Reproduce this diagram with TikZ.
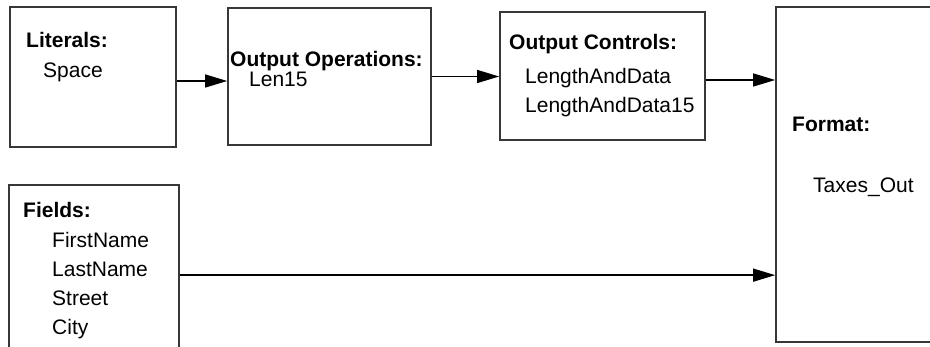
\documentclass[tikz,border=0pt]{standalone}
\usepackage{fontspec}
\setmainfont{Liberation Sans}
\usetikzlibrary{arrows.meta,positioning,calc}
\definecolor{boxline}{RGB}{55,55,55}

\begin{document}
\begin{tikzpicture}[x=1pt,y=-1pt,
  every node/.style={font=\fontsize{21}{29}\selectfont,inner sep=0pt},
  box/.style={draw=boxline,line width=1.7pt},
  arr/.style={-{Triangle[length=22pt,width=13pt]},line width=1.3pt}]
\clip (0,0) rectangle (930,347);
% boxes
\node[box,minimum width=166pt,minimum height=140pt] (lit) at (93,77) {};
\node[box,minimum width=203pt,minimum height=137pt] (ops) at (329.5,76.5) {};
\node[box,minimum width=205pt,minimum height=128pt] (ctl) at (602.5,76) {};
\node[box,minimum width=184pt,minimum height=335pt] (fmt) at (868,174.5) {};
\node[box,minimum width=170pt,minimum height=195pt] (fld) at (94,282.5) {};
% texts
\node[anchor=base west] (litT) at (26,48) {\textbf{Literals:}};
\node[anchor=base west] (litV) at (43,78) {Space};
\node[anchor=base west] (opsT) at (230,67) {\textbf{Output Operations:}};
\node[anchor=base west] (opsV) at (249,87) {Len15};
\node[anchor=base west] (ctlT) at (509,50) {\textbf{Output Controls:}};
\node[anchor=north west,align=left] (ctlV) at (525,68) {LengthAndData\\LengthAndData15};
\node[anchor=base west] (fmtT) at (792,132) {\textbf{Format:}};
\node[anchor=base west] (fmtV) at (813,193) {Taxes\_Out};
\node[anchor=base west] (fldT) at (23,218) {\textbf{Fields:}};
\node[anchor=north west,align=left] (fldV) at (52,232) {FirstName\\LastName\\Street\\City};
% connectors
\draw[arr] ($(lit.east)+(0,4)$) -- ($(ops.west |- lit.east)+(0,4)$);
\draw[arr] (ops.east) -- (ops.east -| ctl.west);
\draw[arr] ($(ctl.east)+(0,4)$) -- ($(fmt.west |- ctl.east)+(0,4)$);
\draw[arr] ($(fld.north east)+(0,91)$) -- ($(fmt.west |- fld.north east)+(0,91)$);
\end{tikzpicture}
\end{document}
